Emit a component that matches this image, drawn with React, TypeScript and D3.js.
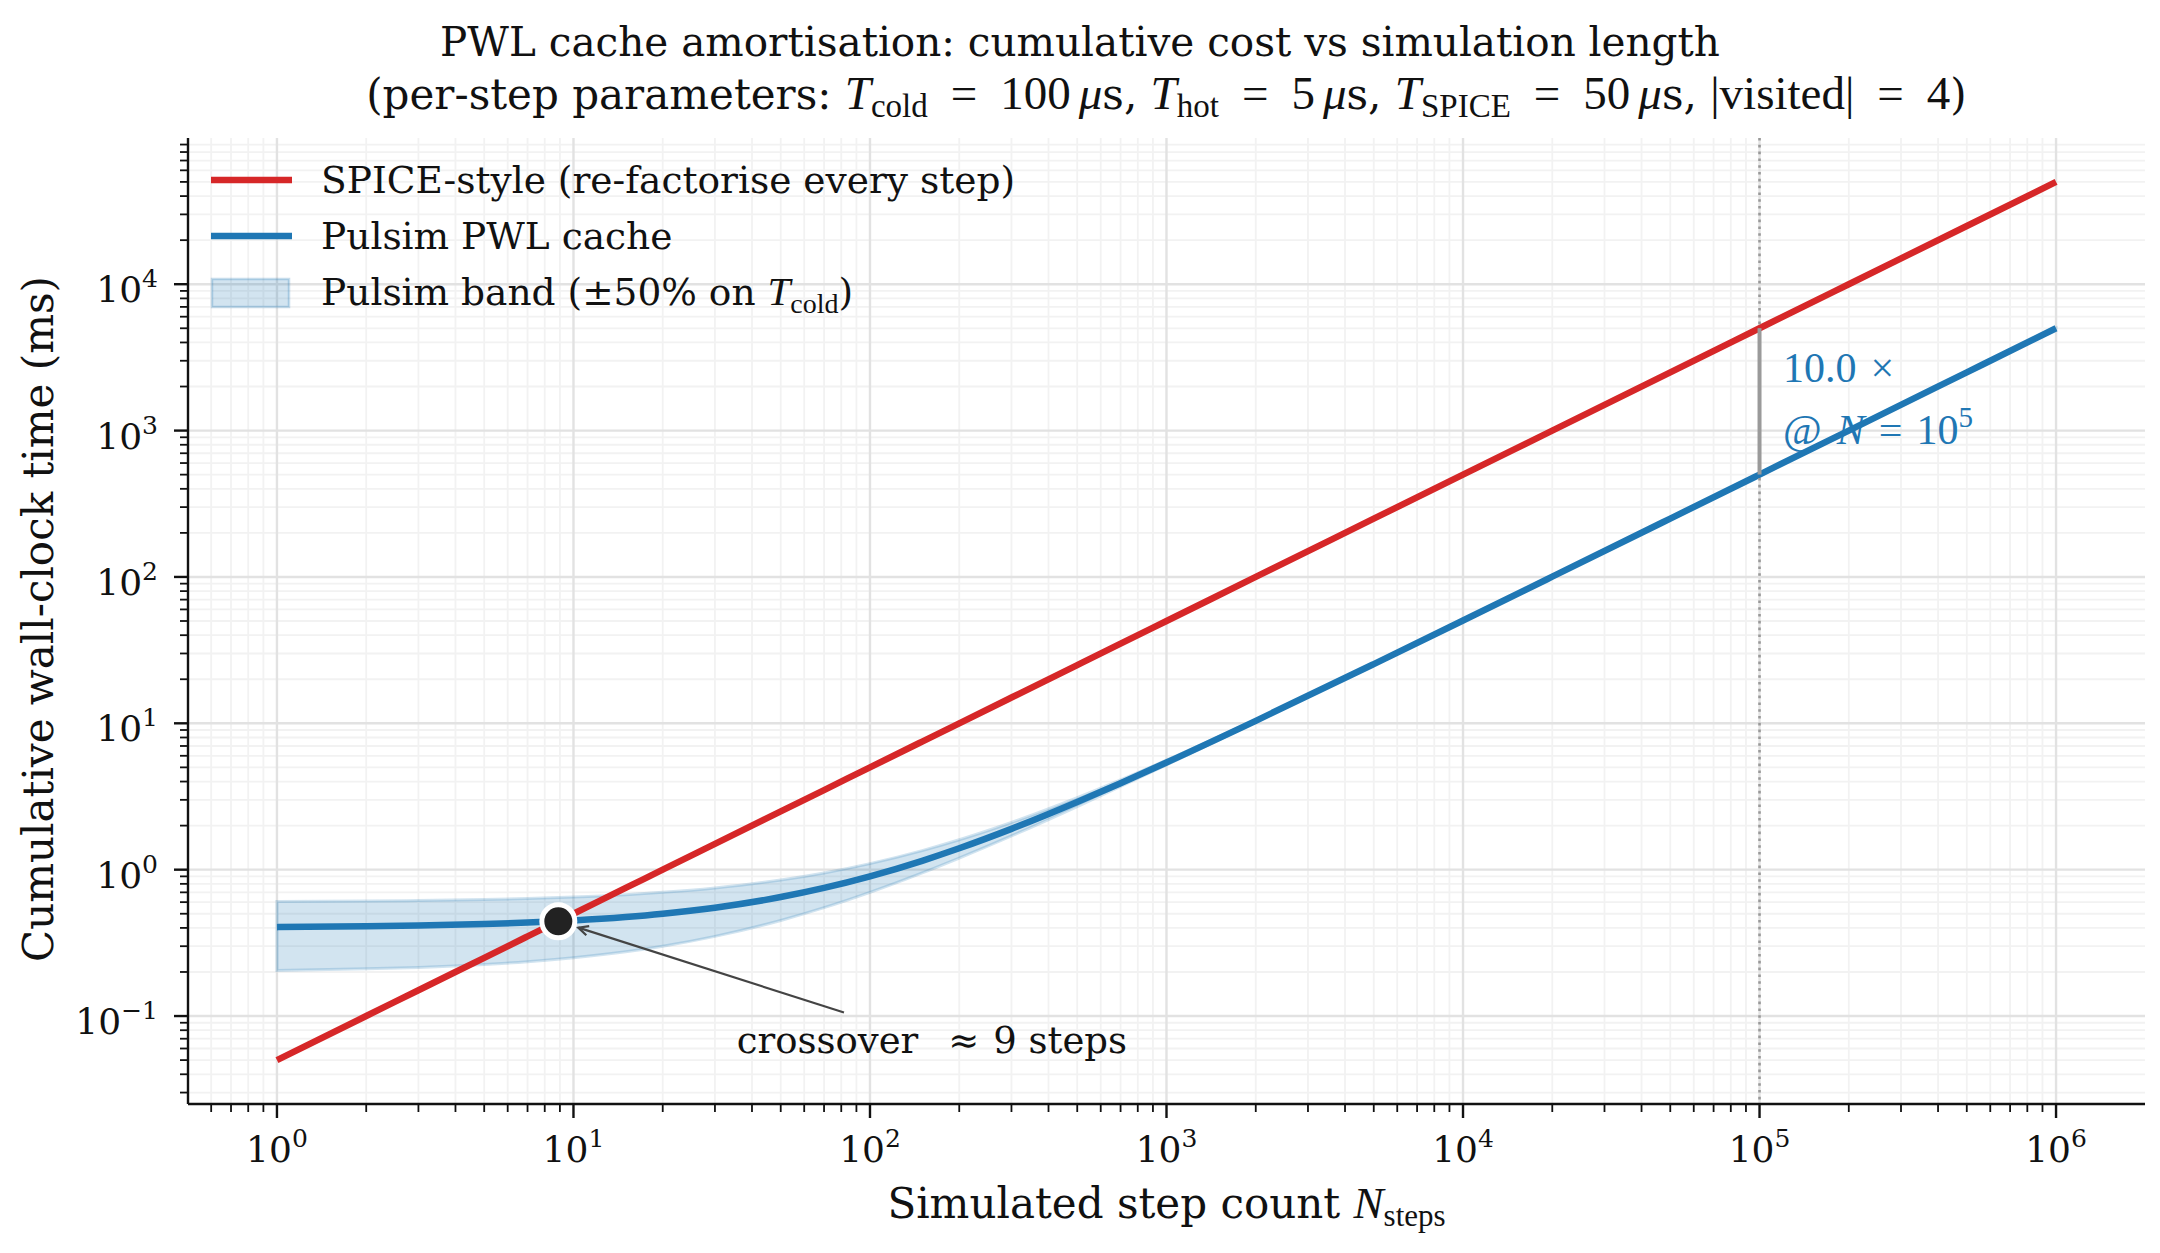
import * as d3 from 'd3'

// (ms of cumulative wall-clock time)
const steps = [1, 2, 3, 5, 7, 10, 15, 20, 30, 50, 70, 100, 150, 200, 300, 500, 700, 1000, 2000, 5000, 1e4, 2e4, 5e4, 1e5, 2e5, 5e5, 1e6]
const spice = [0.05, 0.1, 0.15, 0.25, 0.35, 0.5, 0.75, 1, 1.5, 2.5, 3.5, 5, 7.5, 10, 15, 25, 35, 50, 100, 250, 500, 1000, 2500, 5000, 1e4, 2.5e4, 5e4]
const pulsim = [0.405, 0.41, 0.415, 0.425, 0.435, 0.45, 0.475, 0.5, 0.55, 0.65, 0.75, 0.9, 1.15, 1.4, 1.9, 2.9, 3.9, 5.4, 10.4, 25.4, 50.4, 100.4, 250.4, 500.4, 1000.4, 2500.4, 5000.4]
const bandLow = [0.205, 0.21, 0.215, 0.225, 0.235, 0.25, 0.275, 0.3, 0.35, 0.45, 0.55, 0.7, 0.95, 1.2, 1.7, 2.7, 3.7, 5.2, 10.2, 25.2, 50.2, 100.2, 250.2, 500.2, 1000.2, 2500.2, 5000.2]
const bandHigh = [0.605, 0.61, 0.615, 0.625, 0.635, 0.65, 0.675, 0.7, 0.75, 0.85, 0.95, 1.1, 1.35, 1.6, 2.1, 3.1, 4.1, 5.6, 10.6, 25.6, 50.6, 100.6, 250.6, 500.6, 1000.6, 2500.6, 5000.6]

const xMajor = [0, 1, 2, 3, 4, 5, 6]
const yMajor = [-1, 0, 1, 2, 3, 4]
const crossover = { n: 8.89, t: 0.444 }
const compareAt = { n: 1e5, spice: 5000, pulsim: 500.4 }
const ratioLabel = '10.0'
const params = [
  { sub: 'cold', val: '100' },
  { sub: 'hot', val: '5' },
  { sub: 'SPICE', val: '50' },
]

const RED = '#d62728'
const BLUE = '#1f77b4'
const SERIF = "'DejaVu Serif', serif"
const MATH = "'Liberation Serif', 'DejaVu Serif', serif"

const W = 2160, H = 1253
const plot = { left: 188, right: 2145, top: 138, bottom: 1104 }

export default function App(){
  const x = d3.scaleLog().domain([10 ** -0.3, 10 ** 6.3]).range([plot.left, plot.right])
  const y = d3.scaleLog().domain([10 ** -1.601, 10 ** 4.999]).range([plot.bottom, plot.top])

  const minorOf = (dom: number[]) => {
    const out: number[] = []
    for(let e = -3; e <= 7; e++) for(let m = 2; m <= 9; m++){
      const v = m * 10 ** e
      if(v > dom[0] * 1.0001 && v < dom[1] * 0.9999) out.push(v)
    }
    return out
  }
  const xMinor = minorOf(x.domain())
  const yMinor = minorOf(y.domain())

  const line = d3.line<number>().x((_, i) => x(steps[i])).y(d => y(d)).curve(d3.curveMonotoneX)
  const area = d3.area<number>().x((_, i) => x(steps[i])).y0((_, i) => y(bandLow[i])).y1(d => y(d)).curve(d3.curveMonotoneX)

  // crossover annotation: text at (4N, T/8), arrow from text box edge to the point
  const tx = x(crossover.n * 4), ty = y(crossover.t / 8)
  const textW = 396
  const cx = tx + textW / 2, cy = ty - 12
  const px = x(crossover.n), py = y(crossover.t)
  const boxTop = ty - 41
  const k = (cy - boxTop) / (cy - py)
  const sx = cx + (px - cx) * k, sy = boxTop
  const dx = px - sx, dy = py - sy, len = Math.hypot(dx, dy)
  const ux = dx / len, uy = dy / len
  const ex = px - ux * 21, ey = py - uy * 21
  const head = 11
  const ang = Math.PI / 7
  const rot = (a: number) => [ex - head * (ux * Math.cos(a) - uy * Math.sin(a)), ey - head * (uy * Math.cos(a) + ux * Math.sin(a))]
  const h1 = rot(ang), h2 = rot(-ang)

  const ax = x(compareAt.n * 1.2)
  const ay = y(Math.sqrt(compareAt.spice * compareAt.pulsim))

  const M = 47, S = 33, EQ = 23

  return (
    <svg width={W} height={H} style={{ display: 'block', position: 'absolute', left: 0, top: 0 }}>
      <style>{`body{margin:0}`}</style>
      <rect width={W} height={H} fill="#fff" />

      {/* minor grid */}
      <g stroke="#f2f2f2" strokeWidth={1.8}>
        {xMinor.map(v => <line key={'xm' + v} x1={x(v)} x2={x(v)} y1={plot.top} y2={plot.bottom} />)}
        {yMinor.map(v => <line key={'ym' + v} y1={y(v)} y2={y(v)} x1={plot.left} x2={plot.right} />)}
      </g>
      {/* major grid */}
      <g stroke="#e2e2e2" strokeWidth={2.4}>
        {xMajor.map(e => <line key={'xg' + e} x1={x(10 ** e)} x2={x(10 ** e)} y1={plot.top} y2={plot.bottom} />)}
        {yMajor.map(e => <line key={'yg' + e} y1={y(10 ** e)} y2={y(10 ** e)} x1={plot.left} x2={plot.right} />)}
      </g>

      {/* band + series */}
      <path d={area(bandHigh) ?? ''} fill={BLUE} fillOpacity={0.2} stroke={BLUE} strokeOpacity={0.2} strokeWidth={3} />
      <path d={line(spice) ?? ''} fill="none" stroke={RED} strokeWidth={6.5} />
      <path d={line(pulsim) ?? ''} fill="none" stroke={BLUE} strokeWidth={6.5} />

      {/* N = 1e5 marker */}
      <line x1={x(compareAt.n)} x2={x(compareAt.n)} y1={plot.top} y2={plot.bottom} stroke="#999" strokeWidth={2.6} strokeDasharray="2.6,4.2" />
      <line x1={x(compareAt.n)} x2={x(compareAt.n)} y1={y(compareAt.spice)} y2={y(compareAt.pulsim)} stroke="#9a9a9a" strokeWidth={4} />
      <text x={ax} y={ay - 19} fill={BLUE} fontFamily={MATH} fontSize={42}>{ratioLabel}<tspan dx={14}>×</tspan></text>
      <text x={ax} y={ay + 43} fill={BLUE} fontFamily={MATH} fontSize={42}>@<tspan dx={15} fontStyle="italic">N</tspan><tspan dx={14}>=</tspan><tspan dx={14}>10</tspan><tspan dy={-17} fontSize={29}>5</tspan></text>

      {/* crossover */}
      <g stroke="#444" strokeWidth={2.2} fill="none">
        <line x1={sx} y1={sy} x2={ex} y2={ey} />
        <polyline points={`${h1[0]},${h1[1]} ${ex},${ey} ${h2[0]},${h2[1]}`} />
      </g>
      <circle cx={px} cy={py} r={16.5} fill="#222" stroke="#fff" strokeWidth={5} />
      <text x={tx} y={ty} fontFamily={SERIF} fontSize={37} fill="#111">crossover<tspan dx={30}>≈</tspan><tspan dx={14}>9 steps</tspan></text>

      {/* axes */}
      <g stroke="#111" strokeWidth={2.4}>
        <line x1={plot.left} x2={plot.right} y1={plot.bottom} y2={plot.bottom} />
        <line x1={plot.left} x2={plot.left} y1={plot.top} y2={plot.bottom} />
        {xMajor.map(e => <line key={'xt' + e} x1={x(10 ** e)} x2={x(10 ** e)} y1={plot.bottom} y2={plot.bottom + 14} />)}
        {yMajor.map(e => <line key={'yt' + e} y1={y(10 ** e)} y2={y(10 ** e)} x1={plot.left} x2={plot.left - 14} />)}
      </g>
      <g stroke="#111" strokeWidth={1.8}>
        {xMinor.map(v => <line key={'xmt' + v} x1={x(v)} x2={x(v)} y1={plot.bottom} y2={plot.bottom + 8} />)}
        {yMinor.map(v => <line key={'ymt' + v} y1={y(v)} y2={y(v)} x1={plot.left} x2={plot.left - 8} />)}
      </g>
      <g fontFamily={SERIF} fontSize={36} fill="#111">
        {xMajor.map(e => (
          <text key={'xl' + e} x={x(10 ** e)} y={plot.bottom + 58} textAnchor="middle">10<tspan dy={-15} fontSize={25}>{e}</tspan></text>
        ))}
        {yMajor.map(e => (
          <text key={'yl' + e} x={plot.left - 30} y={y(10 ** e) + 18} textAnchor="end">10<tspan dy={-15} fontSize={25}>{e < 0 ? '−' + (-e) : e}</tspan></text>
        ))}
      </g>

      {/* axis labels */}
      <text x={(plot.left + plot.right) / 2} y={1218} textAnchor="middle" fontFamily={SERIF} fontSize={42} fill="#111">
        Simulated step count <tspan fontFamily={MATH} fontStyle="italic" fontSize={45}>N</tspan><tspan fontFamily={MATH} fontSize={31} dy={8}>steps</tspan>
      </text>
      <text transform={`translate(53,${(plot.top + plot.bottom) / 2 - 2}) rotate(-90)`} textAnchor="middle" fontFamily={SERIF} fontSize={42} fill="#111">
        Cumulative wall-clock time (ms)
      </text>

      {/* suptitle (figure-centred) and axes title (axes-centred) */}
      <text x={W / 2} y={56} textAnchor="middle" fontFamily={SERIF} fontSize={40.5} fill="#111">
        PWL cache amortisation: cumulative cost vs simulation length
      </text>
      <text x={(plot.left + plot.right) / 2} y={109} textAnchor="middle" fontFamily={SERIF} fontSize={42} fill="#111">
        (per-step parameters:{' '}
        {params.map(p => (
          <tspan key={p.sub}>
            <tspan fontFamily={MATH} fontStyle="italic" fontSize={M}>T</tspan>
            <tspan fontFamily={MATH} fontSize={S} dy={8}>{p.sub}</tspan>
            <tspan fontFamily={MATH} fontSize={M} dy={-8} dx={EQ}>=</tspan>
            <tspan fontFamily={MATH} fontSize={M} dx={EQ}>{p.val}</tspan>
            <tspan fontFamily={MATH} fontStyle="italic" fontSize={M} dx={8}>μ</tspan>
            <tspan>s, </tspan>
          </tspan>
        ))}
        <tspan fontFamily={MATH} fontSize={M}>|visited|</tspan>
        <tspan fontFamily={MATH} fontSize={M} dx={EQ}>=</tspan>
        <tspan fontFamily={MATH} fontSize={M} dx={EQ}>4</tspan>)
      </text>

      {/* legend */}
      <g fontFamily={SERIF} fontSize={37.5} fill="#111">
        <line x1={211} x2={292} y1={180} y2={180} stroke={RED} strokeWidth={6.5} />
        <text x={321} y={193}>SPICE-style (re-factorise every step)</text>
        <line x1={211} x2={292} y1={236} y2={236} stroke={BLUE} strokeWidth={6.5} />
        <text x={321} y={249}>Pulsim PWL cache</text>
        <rect x={212} y={279} width={77} height={28} fill={BLUE} fillOpacity={0.2} stroke={BLUE} strokeOpacity={0.25} strokeWidth={2.5} />
        <text x={321} y={305}>Pulsim band (±50% on <tspan fontFamily={MATH} fontStyle="italic" fontSize={41}>T</tspan><tspan fontFamily={MATH} fontSize={28} dy={8}>cold</tspan><tspan dy={-8}>)</tspan></text>
      </g>
    </svg>
  )
}
